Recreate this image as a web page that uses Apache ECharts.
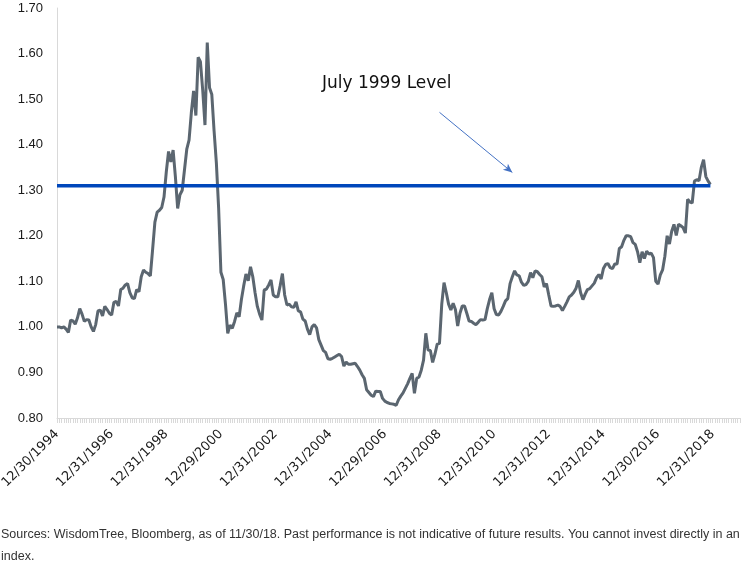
<!DOCTYPE html>
<html>
<head>
<meta charset="utf-8">
<title>July 1999 Level</title>
<script src="https://cdn.jsdelivr.net/npm/echarts@6/dist/echarts.min.js"></script>
<style>
  html, body { margin: 0; padding: 0; background: #fff; }
  #chart { width: 751px; height: 572px; }
</style>
</head>
<body>
<div id="chart"></div>
<script>
// month-end values, 12/30/1994 .. 11/30/2018
const ratioValues = [
  1.00, 1.00, 0.998, 1.00, 0.995, 0.988, 1.015, 1.013, 1.006, 1.02, 1.04, 1.028,
  1.012, 1.016, 1.015, 1.00, 0.99, 1.005, 1.035, 1.037, 1.024, 1.045, 1.038, 1.03,
  1.026, 1.054, 1.056, 1.046, 1.082, 1.085, 1.092, 1.095, 1.075, 1.064, 1.062, 1.082,
  1.077, 1.11, 1.125, 1.12, 1.117, 1.112, 1.17, 1.23, 1.252, 1.256, 1.262, 1.285,
  1.34, 1.385, 1.362, 1.388, 1.33, 1.26, 1.29, 1.30, 1.345, 1.39, 1.41, 1.47,
  1.518, 1.464, 1.592, 1.582, 1.52, 1.443, 1.624, 1.525, 1.51, 1.43, 1.36, 1.26,
  1.12, 1.104, 1.05, 0.986, 1.004, 0.997, 1.012, 1.031, 1.022, 1.06, 1.09, 1.116,
  1.101, 1.132, 1.11, 1.075, 1.045, 1.028, 1.015, 1.081, 1.083, 1.092, 1.103, 1.07,
  1.066, 1.066, 1.09, 1.117, 1.07, 1.048, 1.05, 1.044, 1.043, 1.055, 1.035, 1.033,
  1.017, 1.013, 0.995, 0.983, 1.00, 1.005, 0.998, 0.972, 0.96, 0.948, 0.944, 0.93,
  0.929, 0.931, 0.934, 0.937, 0.94, 0.935, 0.914, 0.923, 0.918, 0.918, 0.919, 0.92,
  0.913, 0.905, 0.895, 0.887, 0.862, 0.856, 0.85, 0.847, 0.859, 0.858, 0.858, 0.843,
  0.837, 0.834, 0.832, 0.831, 0.83, 0.828, 0.84, 0.848, 0.855, 0.865, 0.875, 0.887,
  0.898, 0.854, 0.887, 0.89, 0.905, 0.927, 0.986, 0.949, 0.948, 0.922, 0.94, 0.962,
  0.964, 1.05, 1.097, 1.075, 1.05, 1.037, 1.052, 1.038, 1.002, 1.03, 1.046, 1.046,
  1.03, 1.013, 1.012, 1.008, 1.005, 1.01, 1.016, 1.015, 1.016, 1.04, 1.06, 1.075,
  1.04, 1.027, 1.026, 1.034, 1.045, 1.057, 1.062, 1.095, 1.11, 1.123, 1.114, 1.112,
  1.098, 1.091, 1.093, 1.10, 1.119, 1.108, 1.123, 1.121, 1.115, 1.11, 1.088, 1.095,
  1.07, 1.046, 1.045, 1.046, 1.048, 1.045, 1.036, 1.045, 1.055, 1.066, 1.07, 1.076,
  1.085, 1.102, 1.075, 1.06, 1.072, 1.082, 1.084, 1.09, 1.096, 1.108, 1.115, 1.105,
  1.128, 1.137, 1.139, 1.13, 1.128, 1.138, 1.138, 1.172, 1.176, 1.19, 1.20, 1.20,
  1.198, 1.185, 1.181, 1.165, 1.141, 1.165, 1.15, 1.166, 1.16, 1.162, 1.152, 1.10,
  1.094, 1.114, 1.125, 1.155, 1.20, 1.182, 1.21, 1.225, 1.201, 1.225, 1.222, 1.218,
  1.206, 1.28, 1.274, 1.272, 1.32, 1.323, 1.321, 1.35, 1.367, 1.33, 1.32, 1.313
];

// July 1999 level
const july1999Level = 1.31;

// x axis labels, one every 24 months
const tickLabels = [
  "12/30/1994", "12/31/1996", "12/31/1998", "12/29/2000", "12/31/2002",
  "12/31/2004", "12/29/2006", "12/31/2008", "12/31/2010", "12/31/2012",
  "12/31/2014", "12/30/2016", "12/31/2018"
];

const yTicks = [0.8, 0.9, 1.0, 1.1, 1.2, 1.3, 1.4, 1.5, 1.6, 1.7];

// monthly categories (axis runs a year past the last value, like the original)
const monthCount = 301;
const categories = [];
for (let i = 0; i < monthCount; i++) categories.push(String(i));

const levelValues = ratioValues.map(() => july1999Level);

const chart = echarts.init(document.getElementById("chart"));

chart.setOption({
  animation: false,
  grid: {
    left: 57, right: 11, top: 8, bottom: 154,
    containLabel: false,
    outerBoundsMode: "none" // keep the plot where it is, labels may touch the edge
  },
  xAxis: {
    type: "category",
    data: categories,
    boundaryGap: false,
    axisLine: { lineStyle: { color: "#d9d9d9", width: 1 } },
    axisTick: { show: true, interval: 0, length: 5, lineStyle: { color: "#d9d9d9" } },
    axisLabel: {
      interval: (index) => index % 24 === 0,
      formatter: (value, index) => tickLabels[index / 24] || "",
      rotate: 45,
      margin: 14,
      color: "#1a1a1a",
      fontSize: 13,
      fontFamily: "DejaVu Sans"
    },
    splitLine: { show: false }
  },
  yAxis: {
    type: "value",
    min: yTicks[0],
    max: yTicks[yTicks.length - 1],
    interval: 0.1,
    axisLine: { show: true, lineStyle: { color: "#d9d9d9" } },
    axisTick: { show: false },
    splitLine: { show: false },
    axisLabel: {
      formatter: (v) => v.toFixed(2),
      color: "#1a1a1a",
      fontSize: 13,
      margin: 14,
      fontFamily: "Liberation Sans"
    }
  },
  series: [
    {
      name: "Ratio",
      type: "line",
      data: ratioValues,
      showSymbol: false,
      lineStyle: { color: "#5b6670", width: 3 },
      z: 3
    },
    {
      name: "July 1999 Level",
      type: "line",
      data: levelValues,
      showSymbol: false,
      lineStyle: { color: "#0047bb", width: 3.5 },
      z: 4,
      markLine: {
        silent: true,
        symbol: ["none", "arrow"],
        symbolSize: [6, 9],
        lineStyle: { color: "#4472c4", width: 1, type: "solid" },
        label: { show: false },
        data: [[
          { coord: [168, 1.471] },
          { coord: [200, 1.339] }
        ]]
      }
    }
  ],
  graphic: [
    {
      type: "text",
      left: 322,
      top: 75,
      style: {
        text: "July 1999 Level",
        fill: "#111",
        font: "17px 'DejaVu Sans'"
      }
    },
    {
      type: "text",
      left: 1,
      top: 524,
      style: {
        text: "Sources: WisdomTree, Bloomberg, as of 11/30/18. Past performance is not indicative of future results. You cannot invest directly in an\nindex.",
        fill: "#333",
        font: "12.5px 'Liberation Sans'",
        lineHeight: 22
      }
    }
  ]
});
</script>
</body>
</html>
